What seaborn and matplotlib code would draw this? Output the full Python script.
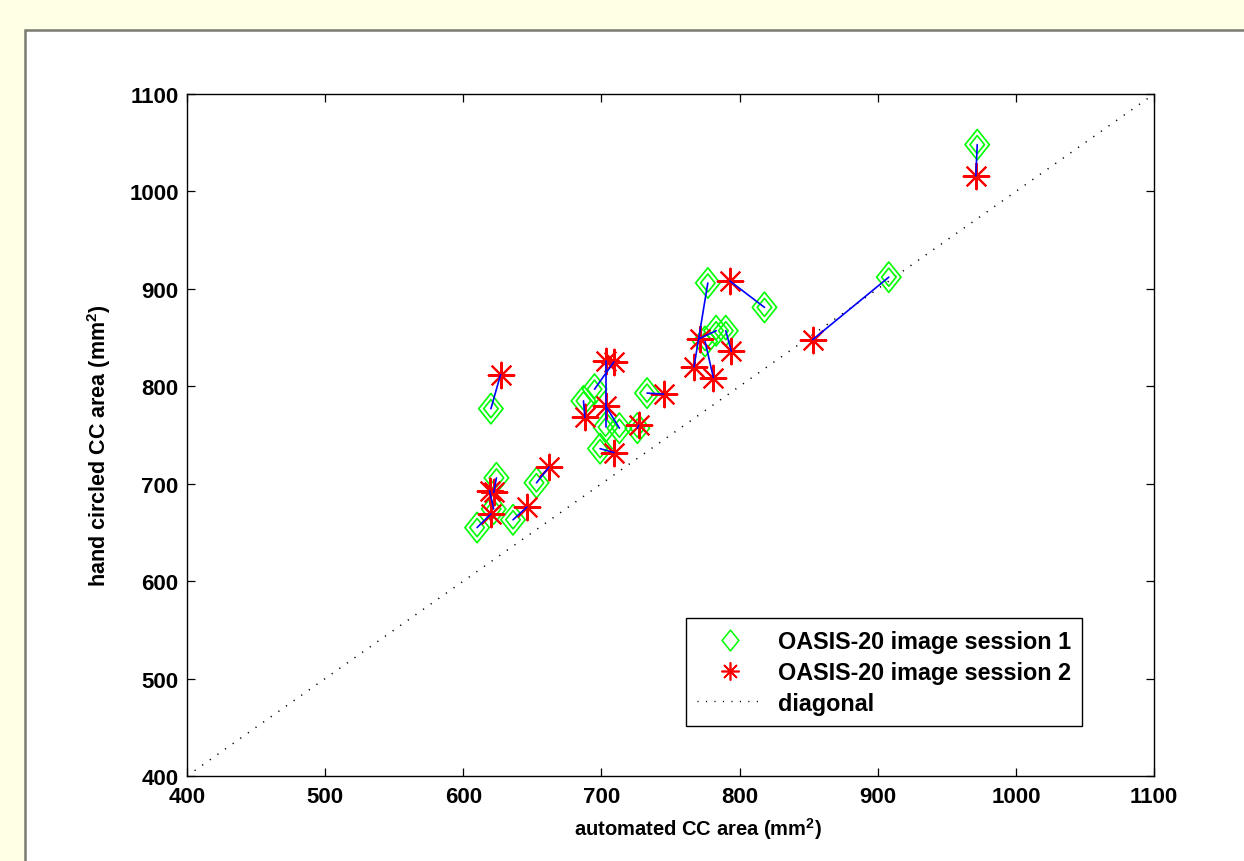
import numpy as np
import pandas as pd
import seaborn as sns
import matplotlib
matplotlib.use("Agg")
import matplotlib.pyplot as plt
from matplotlib.patches import Rectangle
from matplotlib.path import Path
from matplotlib.lines import Line2D

# session 1 (hand circled vs automated), green diamonds
session1_x = [972, 908, 818, 777, 783, 775, 790, 620, 695, 687,
              703, 713, 699, 733, 726, 624, 622, 610, 636, 653]
session1_y = [1048, 912, 881, 906, 857, 846, 857, 777, 797, 785,
              758, 757, 736, 793, 757, 706, 674, 655, 663, 701]
# session 2, red asterisks (same subjects, same order)
session2_x = [971, 853, 793, 767, 771, 781, 794, 627, 709, 688,
              703, 703, 709, 745, 727, 622, 619, 620, 646, 662]
session2_y = [1016, 848, 908, 820, 849, 809, 836, 812, 825, 768,
              826, 780, 732, 792, 760, 691, 693, 669, 676, 717]

axis_ticks = [400, 500, 600, 700, 800, 900, 1000, 1100]
legend_labels = ["OASIS-20 image session 1", "OASIS-20 image session 2", "diagonal"]

sns.set_style("ticks")
plt.rcParams["font.family"] = ["Liberation Sans", "DejaVu Sans"]
plt.rcParams["font.weight"] = "bold"
plt.rcParams["axes.labelweight"] = "bold"
plt.rcParams["mathtext.fontset"] = "custom"
plt.rcParams["mathtext.rm"] = "Liberation Sans:bold"
plt.rcParams["mathtext.bf"] = "Liberation Sans:bold"
plt.rcParams["xtick.direction"] = "in"
plt.rcParams["ytick.direction"] = "in"
for key in ["text.color", "axes.labelcolor", "xtick.color", "ytick.color"]:
    plt.rcParams[key] = "black"

fig = plt.figure(figsize=(12.44, 8.62), dpi=100, facecolor="#ffffe6")
# white panel with grey border (left / top edges visible)
fig.patches.append(Rectangle((25 / 1244, -0.05), 1.1, 1 - 31 / 862 + 0.05,
                             transform=fig.transFigure, facecolor="white",
                             edgecolor="#7b7b6f", lw=1.8, zorder=-1))

ax = fig.add_axes([0.1503, 0.0986, 0.7774, 0.7912])

diamond = Path([(0, 1), (0.8, 0), (0, -1), (-0.8, 0), (0, 1)],
               [Path.MOVETO, Path.LINETO, Path.LINETO, Path.LINETO, Path.CLOSEPOLY])
asterisk = (8, 2, 0)

# diagonal
diag = [axis_ticks[0], axis_ticks[-1]]
sns.lineplot(x=diag, y=diag, ax=ax, color="black", lw=1.1,
             linestyle=(0, (0.8, 5.3)), legend=False)

# double-outlined diamonds
for s in [480, 170]:
    sns.scatterplot(x=session1_x, y=session1_y, ax=ax, marker=diamond, s=s,
                    color="#00ff00", facecolor="none", edgecolor="#00ff00",
                    linewidth=1.2, legend=False, zorder=3)

sns.scatterplot(x=session2_x, y=session2_y, ax=ax, marker=asterisk, s=340,
                color="#ff0000", edgecolor="#ff0000", linewidth=1.5,
                legend=False, zorder=3)

# connect the two sessions of each subject
pairs = pd.DataFrame({
    "subject": list(range(len(session1_x))) * 2,
    "x": session1_x + session2_x,
    "y": session1_y + session2_y,
})
sns.lineplot(data=pairs, x="x", y="y", units="subject", estimator=None,
             sort=False, ax=ax, color="#0000ff", lw=1.2, legend=False, zorder=4)

ax.set_xlim(diag)
ax.set_ylim(diag)
ax.set_xticks(axis_ticks)
ax.set_yticks(axis_ticks)
ax.tick_params(axis="both", which="both", top=True, right=True, length=6,
               width=0.9, labelsize=16, color="black", labelcolor="black")
ax.tick_params(axis="x", pad=7)
ax.tick_params(axis="y", pad=6)
for sp in ax.spines.values():
    sp.set_visible(True)
    sp.set_color("black")
    sp.set_linewidth(1.0)

ax.set_xlabel(r"automated CC area (mm$^{2}$)", fontsize=14.5, fontweight="bold")
ax.set_ylabel(r"hand circled CC area (mm$^{2}$)", fontsize=15.5, fontweight="bold")
ax.xaxis.set_label_coords(0.528, -0.057)
ax.yaxis.set_label_coords(-0.076, 0.485)

handles = [
    Line2D([], [], marker=diamond, ls="none", mfc="none", mec="#00ff00", ms=15, mew=1.1),
    Line2D([], [], marker=asterisk, ls="none", color="#ff0000", ms=13, mew=1.2),
    Line2D([], [], color="black", lw=1, linestyle=(0, (0.8, 5.3))),
]
leg = ax.legend(handles, legend_labels, loc="lower right",
                bbox_to_anchor=(0.926, 0.073), fontsize=16.8, frameon=True,
                fancybox=False, framealpha=1, edgecolor="black",
                handlelength=2.8, handletextpad=0.65, labelspacing=0.33,
                borderpad=0.5, borderaxespad=0)
leg.get_frame().set_linewidth(1.0)
for t in leg.get_texts():
    t.set_fontweight("bold")
    t.set_color("black")

fig.savefig("out.png", dpi=100, facecolor=fig.get_facecolor())
